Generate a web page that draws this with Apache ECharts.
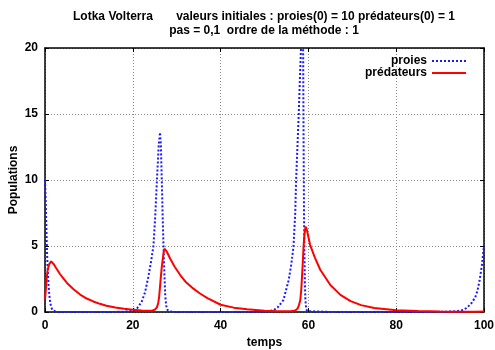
<!DOCTYPE html>
<html>
<head>
<meta charset="utf-8">
<script src="https://cdn.jsdelivr.net/npm/echarts@6/dist/echarts.min.js"></script>
<style>
  html, body { margin: 0; padding: 0; background: #fff; }
  #chart { width: 495px; height: 350px; }
</style>
</head>
<body>
<div id="chart"></div>
<script>
// Axis ticks
const xTicks = [0, 20, 40, 60, 80, 100];
const yTicks = [0, 5, 10, 15, 20];

// Prey (proies)
const preyT = [0, 0.1, 0.2, 0.3, 0.4, 0.5, 0.6, 0.7, 0.8, 0.9, 1.0, 1.2, 1.4, 1.7, 2.0, 2.5, 3,
  6, 10, 14, 16, 17, 18, 19, 20, 21, 22, 22.8, 23.5, 24.1, 24.7, 25.1, 25.5, 25.9, 26.2,
  26.4, 26.6, 26.8, 27.0, 27.2, 27.4, 27.6, 27.9, 28.3, 29,
  35, 40, 45, 48, 50, 51, 52, 53, 54.3, 55.5, 56.1, 56.6, 57.0, 57.2, 57.5, 57.8, 58.05,
  58.3, 58.55, 58.8, 58.9, 59.0, 59.1, 59.2, 59.3, 59.4, 59.5, 59.7, 60,
  65, 70, 80, 88, 90, 93, 94, 95, 96, 97, 98, 98.5, 99, 99.5, 100];
const preyV = [10, 9.0, 7.9, 6.6, 5.2, 4.2, 3.4, 2.7, 2.1, 1.65, 1.25, 0.7, 0.38, 0.15, 0.06, 0.015, 0.005,
  0.002, 0.002, 0.004, 0.008, 0.015, 0.03, 0.06, 0.1, 0.3, 0.75, 1.5, 2.6, 3.7, 5.0, 7.2, 10, 12.6, 13.6,
  12.6, 10, 7.3, 4.9, 2.8, 1.2, 0.5, 0.15, 0.04, 0.01,
  0.002, 0.002, 0.004, 0.01, 0.03, 0.06, 0.13, 0.35, 0.9, 2.4, 3.6, 4.95, 7.5, 10, 12.5, 15, 17.5,
  19.9, 21.5, 20, 13, 7.5, 4.2, 2.2, 1.1, 0.55, 0.27, 0.07, 0.015,
  0.002, 0.001, 0.001, 0.005, 0.01, 0.04, 0.07, 0.14, 0.3, 0.6, 1.1, 1.6, 2.4, 3.5, 5.0];

// Predators (prédateurs)
const predT = [0, 0.1, 0.2, 0.3, 0.4, 0.5, 0.6, 0.8, 1.0, 1.2, 1.4, 1.7, 2.0, 2.5, 3.4, 4.0, 5.0,
  6.5, 8.0, 9.5, 11, 12.5, 14, 16, 18, 20, 22, 23.5, 24.5, 25.0, 25.5, 25.8, 26.0, 26.2, 26.4,
  26.6, 26.8, 27.0, 27.2, 27.4, 27.7, 28.5, 29.5, 30.8, 32, 33.5, 35.3, 37, 40, 43, 46, 50,
  53, 55, 56, 57, 57.5, 57.8, 58.15, 58.4, 58.65, 58.9, 59.1, 59.35, 59.6, 60.4, 61.5, 62.7,
  65, 67.3, 69.6, 72, 75, 80, 85, 90, 95, 98, 100];
const predV = [1.0, 1.35, 1.75, 2.2, 2.6, 2.9, 3.15, 3.45, 3.65, 3.78, 3.84, 3.8, 3.62, 3.35, 2.88, 2.62, 2.2,
  1.72, 1.32, 1.02, 0.8, 0.62, 0.48, 0.34, 0.24, 0.17, 0.12, 0.1, 0.12, 0.17, 0.35, 0.7, 1.15, 1.9, 2.7,
  3.4, 3.95, 4.45, 4.8, 4.8, 4.6, 4.05, 3.45, 2.8, 2.3, 1.85, 1.4, 1.05, 0.55, 0.33, 0.2, 0.1,
  0.065, 0.05, 0.06, 0.12, 0.25, 0.45, 0.9, 1.8, 3.3, 4.95, 5.9, 6.46, 6.3, 5.07, 4.1, 3.2,
  2.05, 1.3, 0.82, 0.52, 0.31, 0.14, 0.07, 0.035, 0.02, 0.02, 0.03];

const font = "'Liberation Sans', Arial, Helvetica, sans-serif";
const chart = echarts.init(document.getElementById('chart'));

const gridLine = { show: true, lineStyle: { color: '#8c8c8c', type: [1, 2], width: 1 } };
const border = { show: true, onZero: false, lineStyle: { color: '#000', width: 1.5 } };
const tick = { show: true, inside: true, length: 4, lineStyle: { color: '#000', width: 1 } };
const tickLabel = { color: '#000', fontFamily: font, fontWeight: 'bold', fontSize: 12 };

chart.setOption({
  animation: false,
  backgroundColor: '#fff',
  title: {
    text: 'Lotka Volterra       valeurs initiales : proies(0) = 10 prédateurs(0) = 1\npas = 0,1  ordre de la méthode : 1',
    left: 259,
    top: 5,
    textAlign: 'center',
    textStyle: { color: '#000', fontFamily: font, fontWeight: 'bold', fontSize: 12, lineHeight: 14 }
  },
  legend: {
    orient: 'vertical',
    align: 'right',
    right: 23,
    top: 50,
    itemWidth: 34,
    itemHeight: 10,
    itemGap: 0,
    itemStyle: { opacity: 0 },
    textStyle: { color: '#000', fontFamily: font, fontWeight: 'bold', fontSize: 12, lineHeight: 12 },
    data: ['proies', 'prédateurs']
  },
  grid: { left: 45, right: 11, top: 48, bottom: 38, outerBoundsMode: 'none' },
  xAxis: [{
    type: 'value', min: xTicks[0], max: xTicks[xTicks.length - 1], interval: 20,
    name: 'temps', nameLocation: 'middle', nameGap: 25,
    nameTextStyle: { color: '#000', fontFamily: font, fontWeight: 'bold', fontSize: 12 },
    axisLine: border, axisTick: tick, splitLine: gridLine,
    axisLabel: Object.assign({ margin: 8 }, tickLabel)
  }, {
    type: 'value', position: 'top', min: xTicks[0], max: xTicks[xTicks.length - 1], interval: 20,
    axisLine: border, axisTick: tick, splitLine: { show: false }, axisLabel: { show: false }
  }],
  yAxis: [{
    type: 'value', min: yTicks[0], max: yTicks[yTicks.length - 1], interval: 5,
    name: 'Populations', nameLocation: 'middle', nameGap: 25, nameMoveOverlap: false,
    nameTextStyle: { color: '#000', fontFamily: font, fontWeight: 'bold', fontSize: 12 },
    axisLine: border, axisTick: tick, splitLine: gridLine,
    axisLabel: Object.assign({ margin: 7 }, tickLabel)
  }, {
    type: 'value', position: 'right', min: yTicks[0], max: yTicks[yTicks.length - 1], interval: 5,
    axisLine: border, axisTick: tick, splitLine: { show: false }, axisLabel: { show: false }
  }],
  series: [{
    name: 'proies',
    type: 'line',
    symbol: 'none',
    clip: true,
    data: preyT.map((t, i) => [t, preyV[i]]),
    itemStyle: { color: '#1a1aff' },
    lineStyle: { color: '#1a1aff', width: 2, type: [2, 2] }
  }, {
    name: 'prédateurs',
    type: 'line',
    symbol: 'none',
    clip: true,
    data: predT.map((t, i) => [t, predV[i]]),
    itemStyle: { color: '#ff0000' },
    lineStyle: { color: '#ff0000', width: 2 }
  }]
});
</script>
</body>
</html>
